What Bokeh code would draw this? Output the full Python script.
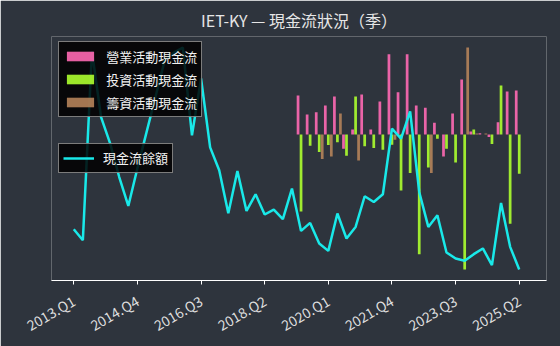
import math
from bokeh.plotting import figure
from bokeh.models import ColumnDataSource, Range1d, FixedTicker, Legend, LegendItem
from bokeh.transform import dodge
from bokeh.embed import file_html
from bokeh.resources import INLINE

# ---------------- data ----------------
quarters = [f"{y}.Q{q}" for y in range(2013, 2026) for q in range(1, 5)][:50]

cash_balance = [51, 40, 229.3, 163.3, 137, 103.3, 74.3, 112, 148, 184,
                220, 228, 233, 145, 202, 133, 110, 67, 109.3, 69.3,
                86, 65.7, 70.7, 61, 91.7, 49.3, 57.3, 36.7, 29.3, 66.7,
                41.7, 53.3, 84, 78.3, 86, 151.7, 141.7, 169, 88.3, 53.3,
                65, 27.7, 21.7, 19.3, 26, 31.7, 15, 77.3, 33.3, 10.7]

bar_quarters = quarters[25:]
operating = [39, 20, 22.3, 29, 38, -14, 5, 40, 5, 33,
             80, 42.3, 80, 29, 26.7, 11.7, -21.7, 21, 55, 3,
             1.3, -2.3, 12.3, 43, 44]
investing = [-76.7, -11, -17.3, -10.3, -7.7, -21, 38, -11.7, -13.3, -15,
             -10, -55.7, -38.3, -119.3, -32.7, -4, -14, -27.7, -134.3, 5,
             0, -9.3, 49, -88.7, -39]
financing = [0, 0, -24.3, -21.7, 21, 0, -25.7, 0, 0, 0,
             -5, 0, 0, 0, -38.3, 0, 0, 0, 86.7, 1,
             1, 0, 0, 0, 0]

tick_labels = ["2013.Q1", "2014.Q4", "2016.Q3", "2018.Q2",
               "2020.Q1", "2021.Q4", "2023.Q3", "2025.Q2"]

series_names = ["營業活動現金流", "投資活動現金流", "籌資活動現金流"]
line_name = "現金流餘額"
title_text = "IET-KY — 現金流狀況（季）"

# ---------------- style ----------------
BG = "#2e343d"
PINK = "#ff69b4"
GREEN = "#adff2f"
BROWN = "#b5835a"
CYAN = "#19e9e9"
FONT = "Noto Sans CJK TC"

def padded(vals, frac=0.05):
    lo, hi = min(vals), max(vals)
    d = (hi - lo) * frac
    return lo - d, hi + d

bar_all = operating + investing + financing
blo, bhi = padded(bar_all)
clo, chi = padded(cash_balance)

p = figure(width=560, height=346, output_backend="svg", toolbar_location=None,
           x_range=Range1d(-2.45, 52.0), y_range=Range1d(blo, bhi),
           min_border_left=51, min_border_right=14, min_border_top=36,
           min_border_bottom=66)
p.extra_y_ranges = {"cash": Range1d(clo, chi)}

p.background_fill_color = BG
p.border_fill_color = BG
p.outline_line_color = None
p.xgrid.visible = False
p.ygrid.visible = False
p.yaxis.visible = False

p.title.text = title_text
p.title.align = "center"
p.title.text_font = FONT
p.title.text_font_size = "16px"
p.title.text_font_style = "normal"
p.title.text_color = "#e6e6e6"

bar_src = ColumnDataSource(dict(x=[quarters.index(q) for q in bar_quarters],
                                op=operating, inv=investing, fin=financing))
line_src = ColumnDataSource(dict(x=list(range(len(quarters))), cash=cash_balance))

r_op = p.vbar(x=dodge("x", -0.33), top="op", bottom=0, width=0.3, source=bar_src,
              fill_color=PINK, line_color=None, fill_alpha=0.9)
r_inv = p.vbar(x=dodge("x", 0.0), top="inv", bottom=0, width=0.3, source=bar_src,
               fill_color=GREEN, line_color=None, fill_alpha=0.9)
r_fin = p.vbar(x=dodge("x", 0.33), top="fin", bottom=0, width=0.3, source=bar_src,
               fill_color=BROWN, line_color=None, fill_alpha=0.9)

r_line = p.line(x="x", y="cash", source=line_src, y_range_name="cash",
                line_width=2.5, line_color=CYAN, level="overlay")

# axis
xa = p.xaxis[0]
ticks = [quarters.index(t) for t in tick_labels]
xa.ticker = FixedTicker(ticks=ticks)
xa.major_label_overrides = {t: lab for t, lab in zip(ticks, tick_labels)}
xa.major_label_orientation = math.pi / 6
xa.axis_line_color = "white"
xa.axis_line_width = 1.2
xa.major_tick_line_color = "white"
xa.minor_tick_line_color = None
xa.major_tick_in = 0
xa.major_tick_out = 4
xa.major_label_standoff = 15
xa.major_label_text_color = "#dddddd"
xa.major_label_text_font = FONT
xa.major_label_text_font_size = "14px"

def style_legend(leg, gw):
    leg.background_fill_color = "#000000"
    leg.background_fill_alpha = 0.85
    leg.border_line_color = "#9a9a9a"
    leg.border_line_alpha = 0.8
    leg.label_text_color = "#f2f2f2"
    leg.label_text_font = FONT
    leg.label_text_font_size = "13px"
    leg.padding = 4
    leg.spacing = 3
    leg.glyph_width = gw
    leg.glyph_height = 12
    leg.label_height = 20
    leg.label_standoff = 9

leg1 = Legend(items=[LegendItem(label=series_names[0], renderers=[r_op]),
                     LegendItem(label=series_names[1], renderers=[r_inv]),
                     LegendItem(label=series_names[2], renderers=[r_fin])],
              location=(7.3, 162.7))
style_legend(leg1, 34)
leg2 = Legend(items=[LegendItem(label=line_name, renderers=[r_line])],
              location=(7, 107.3))
style_legend(leg2, 31)
p.add_layout(leg1)
p.add_layout(leg2)

open("out.html", "w").write(file_html(p, INLINE))
